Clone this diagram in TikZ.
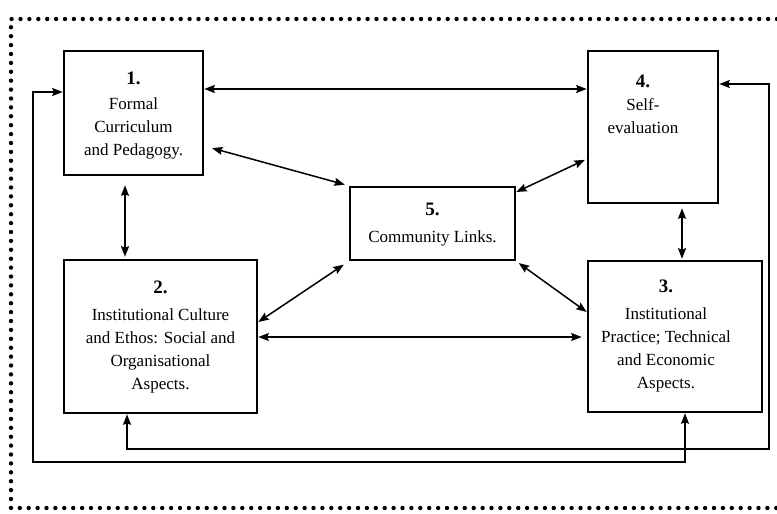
\documentclass[tikz,border=0pt]{standalone}
\usepackage{fontspec}
\setmainfont{Liberation Serif}
\usetikzlibrary{arrows.meta,calc}
\newcommand{\numf}{\bfseries\fontsize{19}{23}\selectfont}
\begin{document}
\begin{tikzpicture}[x=1pt,y=-1pt,
  box/.style={draw,line width=2.6pt,rectangle,inner sep=0pt},
  lbl/.style={align=center,anchor=north,inner sep=0pt,font=\fontsize{17}{23}\selectfont},
  link/.style={{Stealth[length=10.5pt,width=8pt,inset=1.5pt]}-{Stealth[length=10.5pt,width=8pt,inset=1.5pt]},line width=1.5pt},
  loopline/.style={link,line width=1.3pt},
  dots/.style={line width=4.4pt,line cap=round,dash pattern=on 0pt off 8.9pt}]
\useasboundingbox (0,0) rectangle (777,514);
% dotted frame
\draw[dots] (777,19) -- (11,19) -- (11,508) -- (777,508);
% boxes
\node[box,minimum width=139pt,minimum height=124pt] (b1) at (133.5,113) {};
\node[box,minimum width=130pt,minimum height=152pt] (b4) at (653,127) {};
\node[box,minimum width=165pt,minimum height=73pt] (b5) at (432.5,223.5) {};
\node[box,minimum width=193pt,minimum height=153pt] (b2) at (160.5,336.5) {};
\node[box,minimum width=174pt,minimum height=151pt] (b3) at (675,336.5) {};
% labels
\node[lbl] (t1) at (133.5,72) {{\numf 1.}\\[2pt]Formal\\Curriculum\\and Pedagogy.};
\node[lbl] (t4) at (643,75) {{\numf 4.}\\[0pt]Self-\\evaluation};
\node[lbl] (t5) at (432.5,203) {{\numf 5.}\\[4pt]Community Links.};
\node[lbl] (t2) at (160.5,281) {{\numf 2.}\\[4pt]Institutional Culture\\and Ethos: Social and\\Organisational\\Aspects.};
\node[lbl] (t3) at (666,280) {{\numf 3.}\\[4pt]Institutional\\Practice; Technical\\and Economic\\Aspects.};
% helper coordinates
\coordinate (y84) at (0,84);
\coordinate (y89) at (0,89);
\coordinate (y92) at (0,92);
\coordinate (y146) at (0,146);
\coordinate (y159) at (0,159);
\coordinate (y192) at (0,192);
\coordinate (y312) at (0,312);
\coordinate (y322) at (0,322);
\coordinate (y337) at (0,337);
\coordinate (y449) at (0,449);
\coordinate (y462) at (0,462);
\coordinate (x33) at (33,0);
\coordinate (x125) at (125,0);
\coordinate (x127) at (127,0);
\coordinate (x682) at (682,0);
\coordinate (x685) at (685,0);
\coordinate (x769) at (769,0);
% connectors
\draw[link] (b1.east |- y89) -- (b4.west |- y89);
\draw[link,shorten <=8pt,shorten >=4pt] (b1.east |- y146) -- (b5.north west);
\draw[link,shorten >=2pt] (b5.east |- y192) -- (b4.west |- y159);
\draw[link,shorten <=9pt,shorten >=2pt] (x125 |- b1.south) -- (x125 |- b2.north);
\draw[link,shorten <=4pt,shorten >=1pt] (x682 |- b4.south) -- (x682 |- b3.north);
\draw[link,shorten >=6pt] (b2.east |- y322) -- (b5.south west);
\draw[link,shorten <=3pt] (b5.south east) -- (b3.west |- y312);
\draw[link,shorten >=5pt] (b2.east |- y337) -- (b3.west |- y337);
\draw[loopline] (b4.east |- y84) -| (x769 |- y449) -| (x127 |- b2.south);
\draw[loopline] (b1.west |- y92) -| (x33 |- y462) -| (x685 |- b3.south);
\end{tikzpicture}
\end{document}
